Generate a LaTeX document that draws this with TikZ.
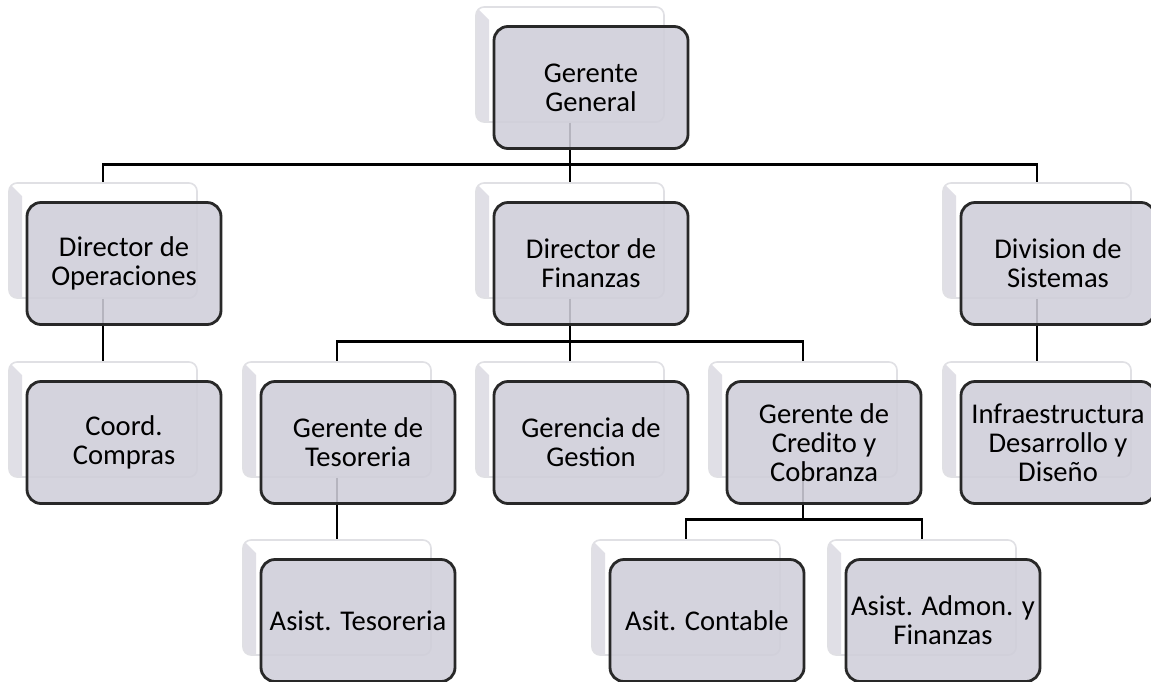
\documentclass[tikz,border=0pt]{standalone}
\usepackage{fontspec}
\setmainfont{Carlito}
\usetikzlibrary{positioning}
\definecolor{boxfill}{RGB}{207,206,217}
\definecolor{boxline}{RGB}{40,40,40}
\definecolor{bevel}{RGB}{224,223,230}
\definecolor{cardline}{RGB}{224,224,228}

\begin{document}
\begin{tikzpicture}[on grid,
  card/.style={draw=cardline, line width=0.8pt, fill=white, rounded corners=4pt,
    minimum width=94pt, minimum height=57.5pt, inner sep=0pt,
    path picture={\fill[bevel, sharp corners] ([shift={(0.5pt,-0.5pt)}]path picture bounding box.north west)
      -- ++(6pt,-6pt) |- ([shift={(0.5pt,0.5pt)}]path picture bounding box.south west) -- cycle;}},
  box/.style={draw=boxline, line width=1.4pt, fill=boxfill, fill opacity=0.88, text opacity=1,
    rounded corners=7pt, minimum width=97pt, minimum height=61pt, inner sep=2pt, align=center,
    font=\fontsize{14.3pt}{14.5pt}\selectfont},
  link/.style={draw=black, line width=1.3pt}]
  \useasboundingbox (0,0) rectangle (575.5pt,-340.5pt);

  % tarjetas de fondo
  \node[card] (gg-b)  at (285pt,-32.25pt) {};
  \node[card] (ops-b) [below left=88pt and 233.5pt of gg-b] {};
  \node[card] (fin-b) [below=88pt of gg-b] {};
  \node[card] (sis-b) [below right=88pt and 233.5pt of gg-b] {};
  \node[card] (cmp-b) [below=89.5pt of ops-b] {};
  \node[card] (tes-b) [below left=89.5pt and 116.5pt of fin-b] {};
  \node[card] (ges-b) [below=89.5pt of fin-b] {};
  \node[card] (cre-b) [below right=89.5pt and 116.5pt of fin-b] {};
  \node[card] (inf-b) [below=89.5pt of sis-b] {};
  \node[card] (ate-b) [below=89pt of tes-b] {};
  \node[card] (con-b) [below left=89pt and 58.5pt of cre-b] {};
  \node[card] (adm-b) [below right=89pt and 59.5pt of cre-b] {};

  % lineas
  \foreach \c in {ops,fin,sis}
    \draw[link] (gg-b.south) |- ([yshift=9pt]\c-b.north) -- (\c-b.north);
  \draw[link] (ops-b.south) -- (cmp-b.north);
  \foreach \c in {tes,ges,cre}
    \draw[link] (fin-b.south) |- ([yshift=10pt]\c-b.north) -- (\c-b.north);
  \draw[link] (sis-b.south) -- (inf-b.north);
  \draw[link] (tes-b.south) -- (ate-b.north);
  \foreach \c in {con,adm}
    \draw[link] (cre-b.south) |- ([yshift=10pt]\c-b.north) -- (\c-b.north);

  % cajas
  \foreach \n/\t in {gg/{Gerente\\General}, ops/{Director de\\Operaciones},
      fin/{Director de\\Finanzas}, sis/{Division de\\Sistemas}, cmp/{Coord.\\Compras},
      tes/{Gerente de\\Tesoreria}, ges/{Gerencia de\\Gestion},
      cre/{Gerente de\\Credito y\\Cobranza}, inf/{Infraestructura\\Desarrollo y\\Diseño},
      ate/{Asist. Tesoreria}, con/{Asit. Contable}, adm/{Asist. Admon. y\\Finanzas}}
    \node[box] (\n) at ([shift={(10.5pt,-11.5pt)}]\n-b) {\t};
\end{tikzpicture}
\end{document}
